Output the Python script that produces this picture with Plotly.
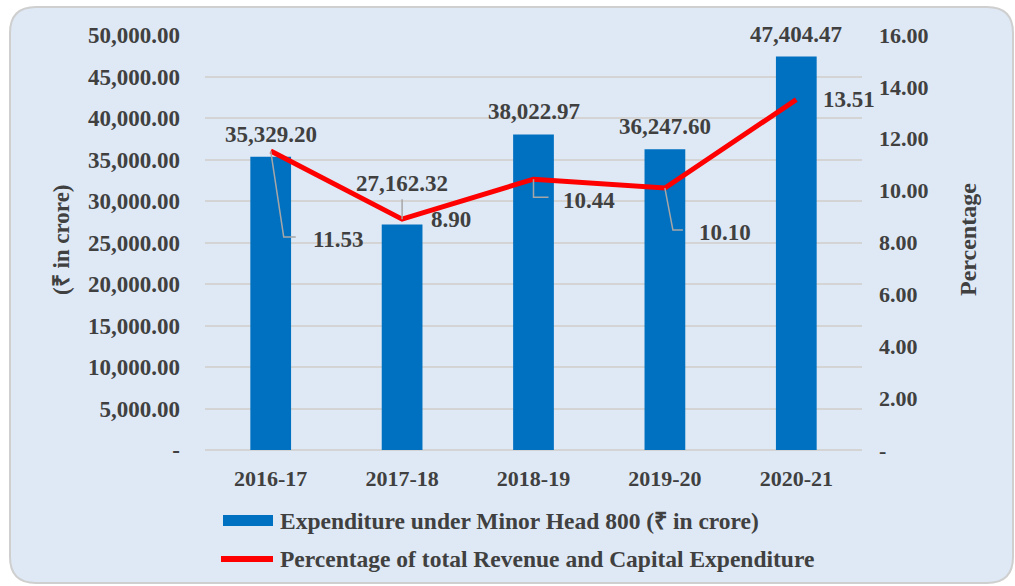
import re
import plotly.graph_objects as go

categories = ["2016-17", "2017-18", "2018-19", "2019-20", "2020-21"]
expenditure = [35329.20, 27162.32, 38022.97, 36247.60, 47404.47]
percentage = [11.53, 8.90, 10.44, 10.10, 13.51]
left_ticks = [0, 5000, 10000, 15000, 20000, 25000, 30000, 35000, 40000, 45000, 50000]
right_ticks = [0, 2, 4, 6, 8, 10, 12, 14, 16]
bar_name = "Expenditure under Minor Head 800 (₹ in crore)"
line_name = "Percentage of total Revenue and Capital Expenditure"

FONT = "Liberation Serif"
TXT = "#404040"
BG = "#dee9f5"
BLUE = "#0070c0"
RED = "#ff0000"

W, H = 1015, 586
L, R, T, B = 205, 153, 35, 136
pw, ph = W - L - R, H - T - B


def px(x):
    return (x - L) / pw


def py(y):
    return (H - B - y) / ph


def f(size):
    return dict(family=FONT, size=size, color=TXT, weight="bold")


fig = go.Figure()
fig.add_trace(go.Bar(x=categories, y=expenditure, name=bar_name,
                     marker=dict(color=BLUE, line=dict(width=0)), width=0.31,
                     yaxis="y", showlegend=False))
fig.add_trace(go.Scatter(x=categories, y=percentage, name=line_name, mode="lines",
                         line=dict(color=RED, width=5), yaxis="y2", showlegend=False))

annotations = []
shapes = []

# bar value labels (pixel gap above bar top)
bar_label_shift = [8, 27, 8, 8, 8]
for c, v, s in zip(categories, expenditure, bar_label_shift):
    annotations.append(dict(x=c, y=v, xref="x", yref="y", text=f"{v:,.2f}",
                            showarrow=False, yanchor="bottom", yshift=s, font=f(23)))

# line value labels: text offset (dx, dy) in px (dy up positive), leader path in px
line_label_off = [(67, -89), (49, 0), (55, -21), (60, -44), (53, 0)]
leaders = [
    "M0,0 L13,-86 L25,-86",
    "M0,0 L0,20",
    "M0,0 L0,-18 L15,-18",
    "M0,0 L8,-42 L18,-42",
    None,
]
for c, v, (dx, dy), lp in zip(categories, percentage, line_label_off, leaders):
    annotations.append(dict(x=c, y=v, xref="x", yref="y2", text=f"{v:.2f}",
                            showarrow=False, xshift=dx, yshift=dy, font=f(23)))
    if lp:
        shapes.append(dict(type="path", path=lp, xref="x", yref="y2",
                           xsizemode="pixel", ysizemode="pixel", xanchor=c, yanchor=v,
                           line=dict(color="#a6a6a6", width=1.5), layer="above"))

# axis titles
annotations.append(dict(text="(₹ in crore)", textangle=-90, xref="paper", yref="paper",
                        x=px(61), y=py(240), xanchor="center", yanchor="middle",
                        showarrow=False, font=f(23)))
annotations.append(dict(text="Percentage", textangle=-90, xref="paper", yref="paper",
                        x=px(968), y=py(240), xanchor="center", yanchor="middle",
                        showarrow=False, font=f(24)))

# custom legend
shapes.append(dict(type="rect", xref="paper", yref="paper",
                   x0=px(223), x1=px(273), y0=py(515), y1=py(526),
                   fillcolor=BLUE, line=dict(width=0)))
shapes.append(dict(type="line", xref="paper", yref="paper",
                   x0=px(221), x1=px(273), y0=py(559), y1=py(559),
                   line=dict(color=RED, width=6)))
annotations.append(dict(text=bar_name, xref="paper", yref="paper", x=px(278), y=py(521),
                        xanchor="left", yanchor="middle", showarrow=False, font=f(23.5)))
annotations.append(dict(text=line_name, xref="paper", yref="paper", x=px(278), y=py(559),
                        xanchor="left", yanchor="middle", showarrow=False, font=f(23.5)))

# rounded background card
x0, x1, y0, y1, r = 10, 1013, 7, 583, 26
path = (f"M {x0+r},{y0} L {x1-r},{y0} Q {x1},{y0} {x1},{y0+r} L {x1},{y1-r} "
        f"Q {x1},{y1} {x1-r},{y1} L {x0+r},{y1} Q {x0},{y1} {x0},{y1-r} "
        f"L {x0},{y0+r} Q {x0},{y0} {x0+r},{y0} Z")


def conv(m):
    return f"{px(float(m.group(1))):.5f},{py(float(m.group(2))):.5f}"


path_paper = re.sub(r"(-?[\d.]+),(-?[\d.]+)", conv, path)
shapes.insert(0, dict(type="path", path=path_paper, xref="paper", yref="paper",
                      fillcolor=BG, line=dict(color="#cfcfcf", width=2), layer="below"))

fig.update_layout(
    width=W, height=H,
    margin=dict(l=L, r=R, t=T, b=B, autoexpand=False),
    paper_bgcolor="white", plot_bgcolor="rgba(0,0,0,0)",
    font=dict(family=FONT, size=20, color=TXT),
    showlegend=False,
    xaxis=dict(range=[-0.5, 4.5], autorange=False, showgrid=False, ticks="",
               tickfont=f(22), showline=False, zeroline=False, ticklabelstandoff=13),
    yaxis=dict(range=[0, 50000], autorange=False, tickvals=left_ticks,
               ticktext=["-"] + [f"{t:,.2f}" for t in left_ticks[1:]],
               tickfont=f(23), showgrid=True, gridcolor="#d4d4d4", gridwidth=1.5,
               zeroline=True, zerolinecolor="#d4d4d4", zerolinewidth=1.5,
               ticklabelstandoff=24, showline=False),
    yaxis2=dict(range=[0, 16], autorange=False, overlaying="y", side="right",
                tickvals=right_ticks,
                ticktext=["-"] + [f"{t:.2f}" for t in right_ticks[1:]],
                tickfont=f(22), showgrid=False, zeroline=False,
                ticklabelstandoff=16, showline=False),
    annotations=annotations,
    shapes=shapes,
)

fig.write_html("out.html", config={"displayModeBar": False},
               post_script="document.body.style.margin='0';")
